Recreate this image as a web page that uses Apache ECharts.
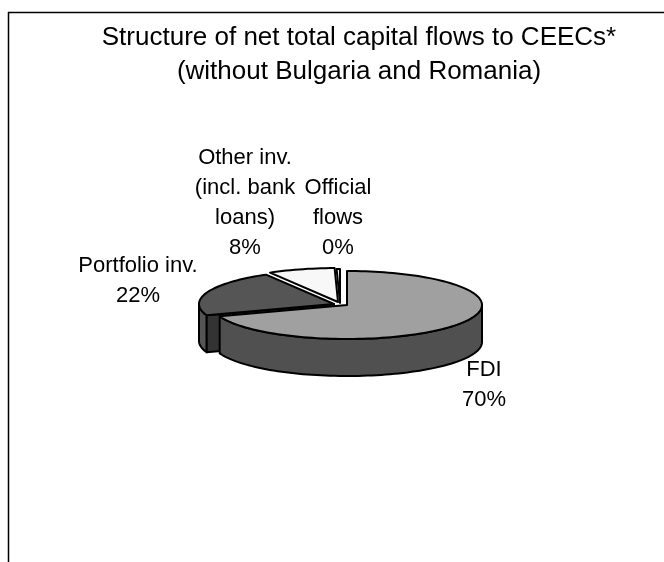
<!DOCTYPE html>
<html><head><meta charset="utf-8">
<style>html,body{margin:0;padding:0;background:#fff}#c{width:664px;height:562px}</style>
<script src="https://cdn.jsdelivr.net/npm/echarts@6/dist/echarts.min.js"></script>
</head><body><div id="c"></div>
<script>
// Data, painted back to front; angles are accumulated backwards from 12 o'clock.
const categories = ['Official\nflows', 'Other inv.\n(incl. bank\nloans)', 'Portfolio inv.', 'FDI'];
const values = [0.4, 8, 22, 69.6];
const titleLines = ['Structure of net total capital flows to CEECs*', '(without Bulgaria and Romania)'];

// Presentation only
const topColors = ['#f0f0f0', '#f8f8f8', '#555555', '#a0a0a0'];
const sideColors = ['#777777', '#777777', '#555555', '#505050'];
const cutColor = '#333333';
const centres = [[340, 303], [338, 302], [334, 304], [347, 305]];
const labelAnchors = [[338, 173], [245, 143], [138, 251], [484, 355]];
const RX = 135, RY = 34, DEPTH = 37;

const total = values.reduce((a, b) => a + b, 0);
const endAngles = [];
values.reduce((end, v, i) => { endAngles[i] = end; return end - v / total * 360; }, 360);

function pt(c, a, dy) {
  const r = a * Math.PI / 180;
  return [c[0] + RX * Math.sin(r), c[1] - RY * Math.cos(r) + (dy || 0)];
}
function arc(c, a0, a1, dy) {
  const n = Math.max(2, Math.ceil(Math.abs(a1 - a0) / 2)), out = [];
  for (let i = 0; i <= n; i++) out.push(pt(c, a0 + (a1 - a0) * i / n, dy));
  return out;
}
const edge = { stroke: '#000', lineWidth: 2, lineJoin: 'round' };

function renderItem(params, api) {
  const i = params.dataIndex;
  const value = api.value(0);
  const a1 = endAngles[i], a0 = a1 - value / total * 360;
  const c = centres[i];
  const children = [];
  // outer wall: only the part facing the viewer (90..270 degrees)
  const s0 = Math.max(a0, 90), s1 = Math.min(a1, 270);
  if (s1 > s0) {
    children.push({
      type: 'polygon',
      shape: { points: arc(c, s0, s1, 0).concat(arc(c, s1, s0, DEPTH)) },
      style: Object.assign({ fill: sideColors[i] }, edge)
    });
  }
  // cut face visible where a slice's leading edge looks towards the viewer
  if (a0 > 180 && a0 < 270) {
    children.push({
      type: 'polygon',
      shape: { points: [c, pt(c, a0), pt(c, a0, DEPTH), [c[0], c[1] + DEPTH]] },
      style: Object.assign({ fill: cutColor }, edge)
    });
  }
  // top face
  children.push({
    type: 'polygon',
    shape: { points: [c].concat(arc(c, a0, a1, 0)) },
    style: Object.assign({ fill: topColors[i] }, edge)
  });
  // label
  children.push({
    type: 'text', z2: 10,
    x: labelAnchors[i][0], y: labelAnchors[i][1],
    style: {
      text: categories[i] + '\n' + Math.round(value / total * 100) + '%',
      fill: '#000', font: '22px "Liberation Sans", Arial, sans-serif',
      align: 'center', verticalAlign: 'top', lineHeight: 30
    }
  });
  return { type: 'group', children };
}

const chart = echarts.init(document.getElementById('c'), null, { renderer: 'canvas' });
chart.setOption({
  animation: false,
  backgroundColor: '#ffffff',
  title: {
    text: titleLines.join('\n'),
    left: 354, top: 16, textAlign: 'center',
    textStyle: { fontFamily: '"Liberation Sans", Arial, sans-serif', fontSize: 26, fontWeight: 'normal', color: '#000', lineHeight: 34 }
  },
  graphic: [
    { type: 'line', shape: { x1: 8.5, y1: 12, x2: 8.5, y2: 562 }, style: { stroke: '#000', lineWidth: 1.5 } },
    { type: 'line', shape: { x1: 8, y1: 12.5, x2: 664, y2: 12.5 }, style: { stroke: '#000', lineWidth: 1.5 } }
  ],
  series: [{
    type: 'custom',
    coordinateSystem: 'none',
    renderItem,
    data: values.map((v, i) => ({ name: categories[i], value: [v] }))
  }]
});
</script></body></html>
